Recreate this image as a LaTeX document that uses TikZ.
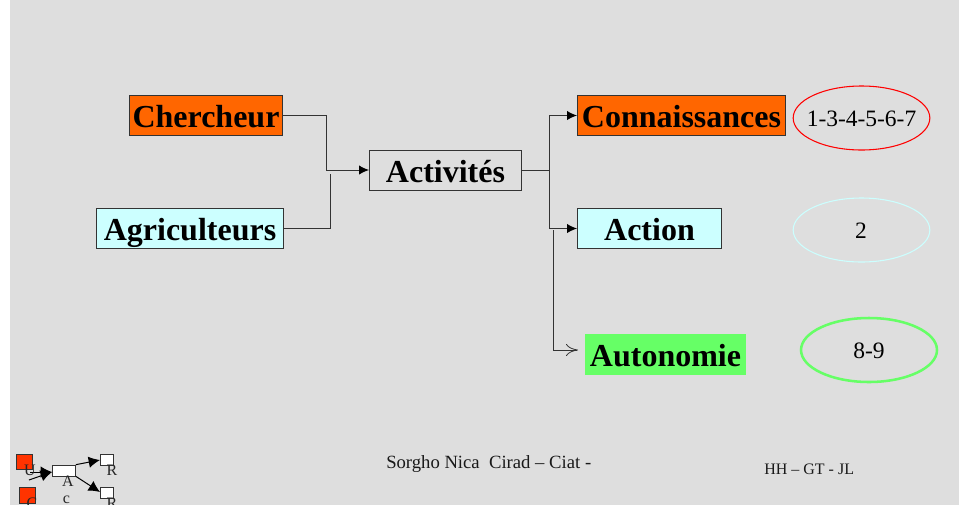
\documentclass[tikz,border=0pt]{standalone}
\usepackage{fontspec}
\setmainfont{Liberation Serif}
\usetikzlibrary{arrows.meta,shapes.geometric}
\definecolor{bgc}{HTML}{DEDEDE}
\definecolor{orangeb}{HTML}{FF6600}
\definecolor{cyanb}{HTML}{CCFFFF}
\definecolor{greenb}{HTML}{66FF66}
\definecolor{lineg}{HTML}{333333}
\definecolor{redu}{HTML}{FF3300}
\tikzset{
  x=0.75pt,y=-0.75pt,
  box/.style={draw=lineg,line width=0.75pt,inner sep=0pt,text height=20pt,text depth=1.4pt,font=\fontsize{24}{26}\selectfont\bfseries},
  oval/.style={ellipse,draw,inner sep=0pt},
  ovaltxt/.style={inner sep=0pt,font=\fontsize{17.6}{20}\selectfont},
  conn/.style={draw=lineg,line width=0.75pt},
  solidarrow/.style={-{Latex[length=7.5pt,width=7pt,black]}},
  openarrow/.style={-{To[length=9pt,width=9pt,line width=0.6pt]}},
  foot/.style={inner sep=0pt,text=black!90},
  mini/.style={draw=lineg,line width=0.5pt,inner sep=0pt},
  minitxt/.style={inner sep=0pt,font=\fontsize{12}{13}\selectfont,text=black!85},
  miniarrow/.style={line width=0.75pt,-{Latex[length=8.5pt,width=8.5pt,black]}},
}
\begin{document}
\begin{tikzpicture}
\useasboundingbox (0,0) rectangle (959,504);
\fill[white] (-5,-5) rectangle (965,510);
\fill[bgc] (10,-5) rectangle (965,510);
\node[box,fill=orangeb,minimum width=115pt,minimum height=30pt] (ch) at (206,115.5) {Chercheur};
\node[box,fill=cyanb,minimum width=140pt,minimum height=30pt] (ag) at (190,228.5) {Agriculteurs};
\node[box,minimum width=114pt,minimum height=30pt] (ac) at (445.5,170) {Activités};
\node[box,fill=orangeb,minimum width=156pt,minimum height=30pt] (co) at (681.5,115.5) {Connaissances};
\node[box,fill=cyanb,minimum width=108pt,minimum height=30pt] (an) at (649.5,228.5) {Action};
\node[box,draw=none,fill=greenb,minimum width=121pt,minimum height=31pt] (au) at (665.5,354.5) {Autonomie};
\node[oval,draw=red,line width=0.8pt,minimum width=102.5pt,minimum height=48pt] (e1) at (861.5,118) {};
\node[oval,draw=cyanb,line width=0.8pt,minimum width=102.5pt,minimum height=48pt] (e2) at (861.5,230) {};
\node[oval,draw=greenb,line width=1.9pt,minimum width=102pt,minimum height=48pt] (e3) at (869,350) {};
\node[ovaltxt] (t1) at (861.5,119) {1-3-4-5-6-7};
\node[ovaltxt] (t2) at (861,231) {2};
\node[ovaltxt] (t3) at (869,351) {8-9};
\coordinate (j1) at (326,170);
\coordinate (j2) at (330,174);
\coordinate (j3) at (549,170);
\coordinate (j4) at (549,228.5);
\coordinate (j5) at (553,230);
\coordinate (j6) at (553,350);
\draw[conn] (ch.east) -| (j1);
\draw[conn,solidarrow] (j1) -- (ac.west);
\draw[conn] (ag.east) -| (j2);
\draw[conn] (ac.east) -- (j3);
\draw[conn,solidarrow] (j3) |- (co.west);
\draw[conn] (j3) -- (j4);
\draw[conn,solidarrow] (j4) -- (an.west);
\draw[conn] (j5) -- (j6);
\coordinate (j7) at (578,350);
\draw[conn,openarrow] (j6) -- (j7);
\node[foot,font=\fontsize{14}{16}\selectfont,anchor=base west] (f1) at (386,468) {Sorgho Nica\ \ Cirad – Ciat -};
\node[foot,font=\fontsize{12}{14}\selectfont,anchor=base west] (f2) at (764,474) {HH – GT - JL};
\node[mini,fill=redu,minimum width=12pt,minimum height=11.5pt] (mu) at (24.5,462) {};
\node[mini,fill=redu,minimum width=12pt,minimum height=12pt] (mc) at (27,495) {};
\node[mini,fill=white,minimum width=17.25pt,minimum height=8.25pt] (ma) at (64,470.5) {};
\node[mini,fill=white,minimum width=9.75pt,minimum height=8.25pt] (mr) at (106.5,460) {};
\node[mini,fill=white,minimum width=9.75pt,minimum height=8.25pt] (mp) at (106.5,492.5) {};
\coordinate (mu1) at (30,472);
\coordinate (mc1) at (29,480);
\coordinate (ma1) at (52,472);
\coordinate (mr1) at (100,460);
\coordinate (mp1) at (100,492);
\draw[miniarrow] (mu1) -- (ma1);
\draw[miniarrow] (mc1) -- (ma1);
\draw[miniarrow] (ma.north east) -- (mr1);
\draw[miniarrow] (ma.south east) -- (mp1);
\node[minitxt] (tu) at (30,470) {U};
\node[minitxt] (tc) at (32,503) {C};
\node[minitxt] (ta) at (68,481) {A};
\node[minitxt] (tcc) at (66.5,500) {c};
\node[minitxt] (tr) at (112,470) {R};
\node[minitxt] (tp) at (112,503) {R};
\end{tikzpicture}
\end{document}
